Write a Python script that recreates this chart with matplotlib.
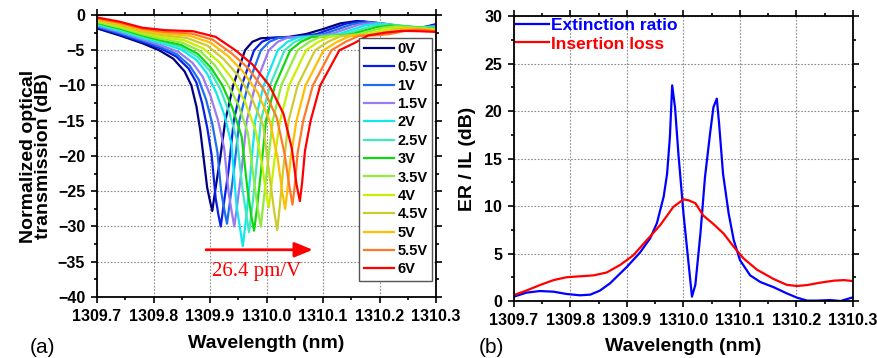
import numpy as np
import matplotlib.pyplot as plt

plt.rcParams['font.family'] = ['Liberation Sans', 'DejaVu Sans']
plt.rcParams['font.weight'] = 'bold'

# (a) normalized transmission for each bias voltage
voltages = ['0V', '0.5V', '1V', '1.5V', '2V', '2.5V', '3V', '3.5V', '4V', '4.5V', '5V', '5.5V', '6V']
colors = ['#000080', '#0a1ee6', '#1e6ef0', '#9a7af0', '#10e8f0', '#40e8c0', '#10d810',
          '#90ea40', '#c8f000', '#cccc30', '#ffbe00', '#ff7a28', '#ff0000']

wl_0v = [1309.700, 1309.740, 1309.780, 1309.810, 1309.835, 1309.855, 1309.867, 1309.876, 1309.883, 1309.889,
         1309.895, 1309.900, 1309.904, 1309.909, 1309.918, 1309.927, 1309.941, 1309.962, 1309.975, 1309.990,
         1310.040, 1310.070, 1310.100, 1310.130, 1310.160, 1310.190, 1310.220, 1310.250, 1310.280, 1310.300]
tr_0v = [-1.9, -2.9, -4.0, -5.0, -6.2, -8.0, -10.0, -13.0, -16.5, -20.5,
         -24.5, -26.4, -27.8, -25.0, -20.3, -15.0, -10.0, -5.0, -3.8, -3.3,
         -3.1, -2.7, -2.0, -1.2, -0.85, -1.1, -1.6, -1.9, -1.7, -1.3]

wl_05v = [1309.700, 1309.740, 1309.780, 1309.813, 1309.840, 1309.862, 1309.876, 1309.886, 1309.895, 1309.903,
          1309.910, 1309.915, 1309.919, 1309.924, 1309.933, 1309.942, 1309.956, 1309.978, 1309.992, 1310.008,
          1310.057, 1310.089, 1310.113, 1310.141, 1310.170, 1310.200, 1310.230, 1310.260, 1310.280, 1310.300]
tr_05v = [-1.77, -2.74, -3.82, -4.76, -5.88, -7.59, -9.58, -12.5, -15.96, -19.96,
          -26.0, -28.4, -30.0, -27.0, -21.9, -15.0, -10.0, -5.0, -3.8, -3.27,
          -3.08, -2.7, -2.01, -1.23, -0.9, -1.15, -1.6, -1.85, -1.75, -1.4]

wl_1v = [1309.700, 1309.740, 1309.780, 1309.812, 1309.841, 1309.864, 1309.880, 1309.893, 1309.904, 1309.913,
         1309.920, 1309.926, 1309.930, 1309.935, 1309.943, 1309.952, 1309.967, 1309.990, 1310.005, 1310.022,
         1310.069, 1310.101, 1310.125, 1310.152, 1310.180, 1310.210, 1310.240, 1310.270, 1310.300]
tr_1v = [-1.64, -2.58, -3.63, -4.53, -5.55, -7.18, -9.17, -12.0, -15.42, -19.42,
         -25.2, -27.9, -29.6, -26.6, -21.6, -15.0, -10.0, -5.0, -3.8, -3.23,
         -3.05, -2.7, -2.05, -1.31, -1.0, -1.25, -1.65, -1.8, -1.5]

wl_15v = [1309.700, 1309.740, 1309.780, 1309.813, 1309.844, 1309.869, 1309.887, 1309.901, 1309.914, 1309.925,
          1309.933, 1309.939, 1309.943, 1309.948, 1309.956, 1309.965, 1309.980, 1310.004, 1310.020, 1310.038,
          1310.084, 1310.114, 1310.137, 1310.163, 1310.190, 1310.220, 1310.250, 1310.280, 1310.300]
tr_15v = [-1.51, -2.41, -3.45, -4.29, -5.23, -6.78, -8.75, -11.5, -14.88, -18.88,
          -25.2, -28.2, -30.0, -27.0, -21.9, -15.0, -10.0, -5.0, -3.8, -3.2,
          -3.03, -2.7, -2.09, -1.39, -1.1, -1.35, -1.7, -1.75, -1.6]

wl_2v = [1309.700, 1309.740, 1309.780, 1309.816, 1309.849, 1309.876, 1309.895, 1309.911, 1309.926, 1309.938,
         1309.947, 1309.954, 1309.958, 1309.963, 1309.970, 1309.980, 1309.995, 1310.020, 1310.037, 1310.056,
         1310.099, 1310.128, 1310.150, 1310.174, 1310.200, 1310.230, 1310.260, 1310.300]
tr_2v = [-1.38, -2.25, -3.27, -4.05, -4.9, -6.37, -8.33, -11.0, -14.33, -18.33,
         -27.1, -30.7, -32.8, -29.5, -23.9, -15.0, -10.0, -5.0, -3.8, -3.17,
         -3.01, -2.7, -2.13, -1.48, -1.2, -1.45, -1.7, -1.7]

wl_25v = [1309.700, 1309.740, 1309.780, 1309.815, 1309.850, 1309.878, 1309.900, 1309.918, 1309.934, 1309.948,
          1309.958, 1309.965, 1309.969, 1309.974, 1309.981, 1309.990, 1310.006, 1310.032, 1310.050, 1310.070,
          1310.112, 1310.140, 1310.161, 1310.185, 1310.210, 1310.240, 1310.270, 1310.300]
tr_25v = [-1.25, -2.09, -3.08, -3.81, -4.58, -5.96, -7.92, -10.5, -13.79, -17.79,
          -25.0, -28.7, -30.8, -27.7, -22.5, -15.0, -10.0, -5.0, -3.8, -3.13,
          -2.99, -2.7, -2.19, -1.6, -1.35, -1.55, -1.75, -1.8]

wl_3v = [1309.700, 1309.740, 1309.780, 1309.812, 1309.849, 1309.879, 1309.902, 1309.922, 1309.940, 1309.956,
         1309.966, 1309.973, 1309.978, 1309.983, 1309.990, 1309.999, 1310.015, 1310.042, 1310.061, 1310.081,
         1310.123, 1310.151, 1310.171, 1310.195, 1310.220, 1310.250, 1310.280, 1310.300]
tr_3v = [-1.13, -1.93, -2.9, -3.58, -4.25, -5.55, -7.5, -10.0, -13.25, -17.25,
         -24.5, -28.5, -30.6, -27.5, -22.3, -15.0, -10.0, -5.0, -3.8, -3.1,
         -2.97, -2.72, -2.25, -1.72, -1.5, -1.65, -1.85, -1.9]

wl_35v = [1309.700, 1309.740, 1309.780, 1309.811, 1309.851, 1309.883, 1309.908, 1309.929, 1309.950, 1309.967,
          1309.978, 1309.985, 1309.990, 1309.994, 1310.001, 1310.011, 1310.026, 1310.055, 1310.076, 1310.096,
          1310.136, 1310.163, 1310.183, 1310.206, 1310.230, 1310.260, 1310.300]
tr_35v = [-1.0, -1.76, -2.72, -3.34, -3.93, -5.14, -7.08, -9.5, -12.71, -16.71,
          -23.6, -27.8, -30.0, -27.0, -21.9, -15.0, -10.0, -5.0, -3.8, -3.07,
          -2.95, -2.72, -2.29, -1.81, -1.6, -1.75, -2.0]

wl_4v = [1309.700, 1309.740, 1309.780, 1309.813, 1309.855, 1309.888, 1309.916, 1309.939, 1309.961, 1309.980,
         1309.992, 1309.999, 1310.004, 1310.008, 1310.015, 1310.024, 1310.040, 1310.070, 1310.092, 1310.113,
         1310.151, 1310.177, 1310.196, 1310.217, 1310.240, 1310.270, 1310.300]
tr_4v = [-0.87, -1.6, -2.53, -3.1, -3.6, -4.73, -6.67, -9.0, -12.17, -16.17,
         -21.1, -25.2, -27.3, -24.6, -19.9, -15.0, -10.0, -5.0, -3.8, -3.03,
         -2.93, -2.72, -2.35, -1.93, -1.75, -1.9, -2.05]

wl_45v = [1309.700, 1309.740, 1309.780, 1309.816, 1309.860, 1309.895, 1309.924, 1309.949, 1309.973, 1309.994,
          1310.006, 1310.014, 1310.019, 1310.023, 1310.029, 1310.039, 1310.055, 1310.086, 1310.109, 1310.131,
          1310.167, 1310.191, 1310.208, 1310.229, 1310.250, 1310.280, 1310.300]
tr_45v = [-0.74, -1.44, -2.35, -2.86, -3.28, -4.33, -6.25, -8.5, -11.63, -15.63,
          -23.2, -28.1, -30.5, -27.5, -22.3, -15.0, -10.0, -5.0, -3.8, -3.0,
          -2.91, -2.72, -2.39, -2.01, -1.85, -2.0, -2.15]

wl_5v = [1309.700, 1309.740, 1309.780, 1309.818, 1309.864, 1309.901, 1309.932, 1309.958, 1309.985, 1310.006,
         1310.020, 1310.028, 1310.033, 1310.037, 1310.043, 1310.053, 1310.069, 1310.101, 1310.125, 1310.148,
         1310.182, 1310.204, 1310.221, 1310.240, 1310.260, 1310.280, 1310.300]
tr_5v = [-0.61, -1.28, -2.17, -2.63, -2.95, -3.92, -5.83, -8.0, -11.08, -15.08,
         -20.5, -25.2, -27.5, -24.8, -20.1, -15.0, -10.0, -5.0, -3.8, -2.97,
         -2.89, -2.73, -2.43, -2.09, -1.95, -2.05, -2.2]

wl_55v = [1309.700, 1309.740, 1309.780, 1309.819, 1309.867, 1309.905, 1309.938, 1309.967, 1309.995, 1310.018,
          1310.032, 1310.041, 1310.046, 1310.050, 1310.055, 1310.065, 1310.082, 1310.115, 1310.140, 1310.164,
          1310.196, 1310.217, 1310.233, 1310.251, 1310.270, 1310.300]
tr_55v = [-0.48, -1.11, -1.98, -2.39, -2.63, -3.51, -5.42, -7.5, -10.54, -14.54,
          -19.7, -24.6, -26.9, -24.2, -19.6, -15.0, -10.0, -5.0, -3.8, -2.93,
          -2.86, -2.72, -2.46, -2.17, -2.05, -2.3]

wl_6v = [1309.700, 1309.740, 1309.780, 1309.820, 1309.870, 1309.910, 1309.945, 1309.975, 1310.005, 1310.030,
         1310.045, 1310.053, 1310.059, 1310.063, 1310.068, 1310.078, 1310.095, 1310.129, 1310.155, 1310.180,
         1310.210, 1310.240, 1310.270, 1310.300]
tr_6v = [-0.35, -0.95, -1.8, -2.15, -2.3, -3.1, -5.0, -7.0, -10.0, -14.0,
         -19.0, -24.0, -26.4, -23.8, -19.3, -15.0, -10.0, -5.0, -4.0, -2.9,
         -2.5, -2.25, -2.3, -2.4]

wavelengths = [wl_0v, wl_05v, wl_1v, wl_15v, wl_2v, wl_25v, wl_3v, wl_35v, wl_4v, wl_45v, wl_5v, wl_55v, wl_6v]
transmissions = [tr_0v, tr_05v, tr_1v, tr_15v, tr_2v, tr_25v, tr_3v, tr_35v, tr_4v, tr_45v, tr_5v, tr_55v, tr_6v]

# (b) extinction ratio and insertion loss
wl_er = [1309.700, 1309.722, 1309.746, 1309.770, 1309.793, 1309.817, 1309.835, 1309.852, 1309.870, 1309.900,
         1309.923, 1309.941, 1309.953, 1309.965, 1309.971, 1309.976, 1309.980, 1309.985, 1309.991, 1310.000,
         1310.009, 1310.015, 1310.021, 1310.030, 1310.038, 1310.047, 1310.053, 1310.059, 1310.063, 1310.070,
         1310.080, 1310.089, 1310.100, 1310.118, 1310.136, 1310.160, 1310.183, 1310.201, 1310.219, 1310.236,
         1310.260, 1310.278, 1310.300]
er = [0.46, 0.88, 1.05, 0.98, 0.74, 0.6, 0.67, 1.09, 1.86, 3.6,
      5.1, 6.6, 8.2, 11.0, 13.4, 17.3, 22.7, 20.4, 15.5, 9.2,
      3.96, 0.46, 1.7, 7.1, 13.0, 17.6, 20.4, 21.3, 18.7, 13.4,
      9.2, 6.4, 4.3, 2.7, 2.0, 1.44, 0.8, 0.35, 0.04, 0.04,
      0.1, 0.0, 0.39]

wl_il = [1309.700, 1309.722, 1309.746, 1309.770, 1309.793, 1309.817, 1309.841, 1309.864, 1309.888, 1309.911,
         1309.935, 1309.959, 1309.982, 1310.000, 1310.009, 1310.021, 1310.035, 1310.053, 1310.071, 1310.089,
         1310.106, 1310.130, 1310.160, 1310.183, 1310.201, 1310.219, 1310.242, 1310.266, 1310.284, 1310.300]
il = [0.63, 1.1, 1.68, 2.2, 2.5, 2.6, 2.7, 3.0, 3.8, 4.8,
      6.4, 8.0, 9.9, 10.7, 10.6, 10.3, 9.0, 8.1, 7.1, 5.7,
      4.5, 3.3, 2.3, 1.7, 1.58, 1.68, 1.93, 2.14, 2.2, 2.1]

xticks = [1309.7, 1309.8, 1309.9, 1310.0, 1310.1, 1310.2, 1310.3]
xticklabels = ['1309.7', '1309.8', '1309.9', '1310.0', '1310.1', '1310.2', '1310.3']

fig = plt.figure(figsize=(8.78, 3.58), dpi=100)
ax1 = fig.add_axes([0.1105, 0.1704, 0.3861, 0.7877])
ax2 = fig.add_axes([0.5854, 0.1592, 0.3861, 0.7961])


def style_axes(ax, xpad):
    ax.set_xlim(1309.7, 1310.3)
    ax.set_xticks(xticks)
    ax.set_xticklabels(xticklabels)
    ax.set_xticks(np.arange(1309.75, 1310.3, 0.1), minor=True)
    ax.tick_params(which='both', direction='out', top=True, right=True, width=1.2,
                   labelsize=11.5, pad=4)
    ax.tick_params(which='major', length=4.5)
    ax.tick_params(which='minor', length=2.5)
    ax.grid(True, which='major', color='#8c8c8c', linestyle=(0, (1.5, 1.5)), linewidth=0.8)
    for s in ax.spines.values():
        s.set_linewidth(1.3)
    ax.set_xlabel('Wavelength (nm)', fontsize=14, fontweight='bold', labelpad=xpad)


for wl, tr, c, v in zip(wavelengths, transmissions, colors, voltages):
    ax1.plot(wl, tr, color=c, lw=1.6, label=v)

style_axes(ax1, 8)
ax1.set_ylim(-40, 0)
ax1.set_yticks(np.arange(-40, 1, 5))
ax1.set_yticks(np.arange(-37.5, 0, 5), minor=True)
ax1.set_ylabel('Normalized optical\ntransmission (dB)', fontsize=14, fontweight='bold',
               linespacing=0.9, labelpad=4)
leg = ax1.legend(loc='upper right', bbox_to_anchor=(0.988, 0.92), fontsize=10.5,
                 handlelength=2.1, handletextpad=0.2, labelspacing=0.3, borderpad=0.3,
                 fancybox=False, framealpha=1, edgecolor='#555555', borderaxespad=0)
leg.get_frame().set_linewidth(1.0)

# shift arrow and slope annotation
ax1.annotate('', xy=(1310.082, -33.3), xytext=(1309.893, -33.3),
             arrowprops=dict(arrowstyle='-|>,head_length=1.1,head_width=0.45',
                             color='red', lw=2, mutation_scale=10, shrinkA=0, shrinkB=0))
ax1.text(1309.9035, -36.4, '26.4 pm/V', color='red', fontsize=15,
         family=['Liberation Serif', 'DejaVu Serif'], fontweight='normal', va='center', ha='left')

ax2.plot(wl_er, er, color='#0000ff', lw=1.6, label='Extinction ratio')
ax2.plot(wl_il, il, color='#ff0000', lw=1.6, label='Insertion loss')
style_axes(ax2, 7)
ax2.set_ylim(0, 30)
ax2.set_yticks(np.arange(0, 31, 5))
ax2.set_yticks(np.arange(2.5, 30, 5), minor=True)
ax2.set_ylabel('ER / IL (dB)', fontsize=14, fontweight='bold', labelpad=6)
leg2 = ax2.legend(loc='upper left', bbox_to_anchor=(0.0, 1.0), fontsize=12.5, frameon=False,
                  handlelength=1.9, handletextpad=0.15, labelspacing=0.2, borderpad=0.1,
                  borderaxespad=0)
for txt, line in zip(leg2.get_texts(), leg2.get_lines()):
    txt.set_color(line.get_color())

fig.text(0.034, 0.015, '(a)', fontsize=15, fontweight='normal')
fig.text(0.545, 0.015, '(b)', fontsize=15, fontweight='normal')

fig.savefig('out.png', dpi=100)
